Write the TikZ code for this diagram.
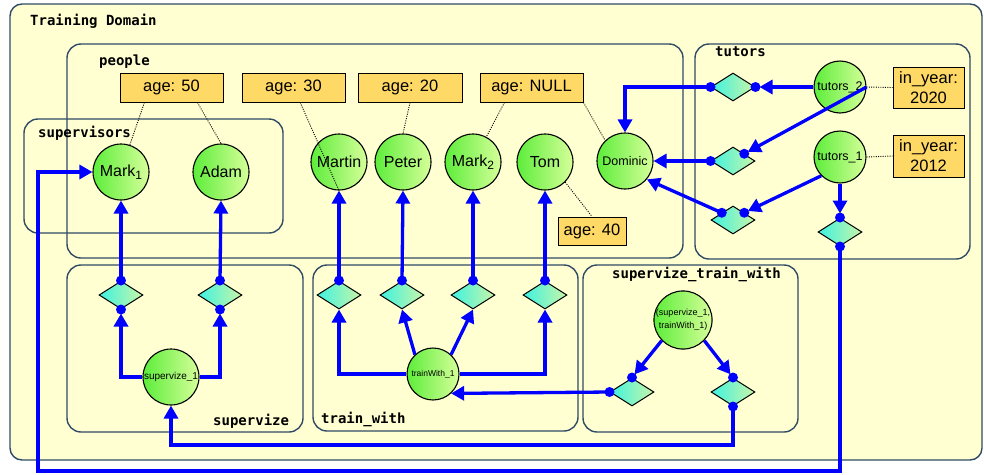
\documentclass[tikz,border=0pt]{standalone}
\usepackage{fontspec}
\setmainfont{Liberation Sans}
\newfontfamily\labfont{DejaVu Sans Mono}
\usetikzlibrary{arrows.meta,shapes.geometric,calc}
\definecolor{bgy}{HTML}{FFFFD2}
\definecolor{framec}{HTML}{2F4B66}
\definecolor{ageb}{HTML}{FFD966}
\definecolor{cgl}{HTML}{5DED3A}
\definecolor{cgr}{HTML}{D6FF9A}
\definecolor{dl}{HTML}{3EF2E0}
\definecolor{dr}{HTML}{C8F5A8}
\begin{document}
\begin{tikzpicture}[x=1pt,y=-1pt,
  grp/.style={draw=framec, line width=1.4pt, rounded corners=14pt},
  lab/.style={font={\labfont\bfseries\fontsize{14}{16}\selectfont}, anchor=west, inner sep=0pt},
  circ/.style={circle, draw=black, line width=1.1pt, minimum size=#1, inner sep=0pt,
    left color=cgl, right color=cgr, text=black, font=\fontsize{16}{18}\selectfont},
  circ/.default=56pt,
  dia/.style={diamond, draw=black, line width=1pt, minimum width=44pt, minimum height=28pt,
    inner sep=0pt, aspect=1.57, left color=dl, right color=dr},
  agebox/.style={rectangle, draw=black, line width=1pt, fill=ageb, minimum width=#1,
    minimum height=29pt, inner sep=0pt, font=\fontsize{16.5}{19}\selectfont},
  arr/.style={draw=blue, line width=3.3pt, -{Triangle[length=13pt,width=14pt]}},
  bl/.style={draw=blue, line width=3.3pt},
  dotl/.style={draw=black, line width=0.9pt, dash pattern=on 1pt off 1.3pt},
  bdot/.style={fill=blue}
]
\useasboundingbox (0,0) rectangle (984,474);
% frames
\draw[grp, fill=bgy, rounded corners=12pt] (10,4) rectangle (982,460);
\draw[grp] (67,44) rectangle (683,258);
\draw[grp] (24,119) rectangle (283,233);
\draw[grp] (695,44) rectangle (970,259);
\draw[grp] (67,265) rectangle (303,432);
\draw[grp] (313,265) rectangle (578,431);
\draw[grp] (583,265) rectangle (798,432);
% frame labels
\node[lab] (lTD) at (30,21) {Training Domain};
\node[lab] (lPe) at (99,62) {people};
\node[lab] (lSu) at (38,133) {supervisors};
\node[lab] (lTu) at (715,52) {tutors};
\node[lab] (lSv) at (213,421) {supervize};
\node[lab] (lTw) at (321,419) {train\_with};
\node[lab] (lSt) at (612,274) {supervize\_train\_with};
% age boxes
\node[agebox=103pt] (a50) at (171.5,87.5) {age: 50};
\node[agebox=103pt] (a30) at (293.5,87.5) {age: 30};
\node[agebox=104pt] (a20) at (410,87.5) {age: 20};
\node[agebox=103pt] (aNU) at (531.5,87.5) {age: NULL};
\node[agebox=68pt, minimum height=28pt] (a40) at (592,231) {age: 40};
\node[agebox=71pt, minimum height=41pt, align=center, font=\fontsize{16.5}{20}\selectfont] (y20) at (928.5,87.5) {in\_year:\\2020};
\node[agebox=71pt, minimum height=42pt, align=center, font=\fontsize{16.5}{20}\selectfont] (y12) at (928.5,156) {in\_year:\\2012};
% circles
\node[circ] (m1) at (121,172) {Mark\raisebox{-0.35ex}{\fontsize{12}{12}\selectfont 1}};
\node[circ] (adam) at (221,172) {Adam};
\node[circ] (martin) at (339,162) {Martin};
\node[circ] (peter) at (403,162) {Peter};
\node[circ] (mark2) at (473,162) {Mark\raisebox{-0.35ex}{\fontsize{12}{12}\selectfont 2}};
\node[circ] (tom) at (545,162) {Tom};
\node[circ, font=\fontsize{12.5}{14}\selectfont] (dom) at (625,161) {Dominic};
\node[circ=52pt, font=\fontsize{12.5}{14}\selectfont] (t2) at (840,87) {tutors\_2};
\node[circ=52pt, font=\fontsize{12.5}{14}\selectfont] (t1) at (840,157) {tutors\_1};
\node[circ, font=\fontsize{10}{12}\selectfont] (s1) at (171,377) {supervize\_1};
\node[circ=52pt, font=\fontsize{8.5}{10}\selectfont] (tw) at (433,374) {trainWith\_1};
\node[circ=58pt, align=center, font=\fontsize{9}{13}\selectfont] (stw) at (683,320) {(supervize\_1,\\trainWith\_1)};
% diamonds
\node[dia] (sd1) at (121,295) {};
\node[dia] (sd2) at (220,295) {};
\node[dia] (td1) at (339,295) {};
\node[dia] (td2) at (402,295) {};
\node[dia] (td3) at (473,295) {};
\node[dia] (td4) at (545,295) {};
\node[dia] (xd1) at (632,392) {};
\node[dia] (xd2) at (733,392) {};
\node[dia] (ud1) at (733,87) {};
\node[dia] (ud2) at (733,161) {};
\node[dia] (ud3) at (733,220) {};
\node[dia] (ud4) at (840,232) {};
\coordinate (ybot) at (38,471);
\coordinate (ymid) at (0,445);
% connectors: supervize
\draw[arr] (sd1.north) -- (m1.south);
\draw[arr] (sd2.north) -- (adam.south);
\draw[arr, shorten >=4pt] (s1.west) -| (sd1.south);
\draw[arr, shorten >=4pt] (s1.east) -| (sd2.south);
% train_with
\draw[arr] (td1.north) -- (martin.south);
\draw[arr] (td2.north) -- (peter.south);
\draw[arr] (td3.north) -- (mark2.south);
\draw[arr] (td4.north) -- (tom.south);
\draw[arr] (tw.west) -| (td1.south);
\draw[arr] (tw.east) -| (td4.south);
\draw[arr] (tw.133) -- (td2.south);
\draw[arr] (tw.47) -- (td3.south);
% supervize_train_with
\draw[arr, shorten >=4pt] (stw.224) -- (xd1.north);
\draw[arr, shorten >=4pt] (stw.316) -- (xd2.north);
\draw[arr] (xd1.west) -- (tw.-47);
\draw[arr] (xd2.south) -- (xd2.south |- ymid) -| (s1.south);
% tutors
\draw[arr, shorten >=4pt] (t2.west) -- (ud1.east);
\draw[arr] (ud1.west) -| (dom.north);
\draw[arr, shorten >=4pt] (t2.east) -- (ud2.north east);
\draw[arr] (ud2.west) -- (dom.east);
\draw[arr, shorten >=4pt] (t1.225) -- (ud3.north east);
\draw[arr] (ud3.north west) -- (dom.-40);
\draw[arr, shorten >=4pt] (t1.south) -- (ud4.north);
\draw[arr] (ud4.south) -- (ud4.south |- ybot) -- (ybot) |- (m1.west);
% dots
\foreach \p in {sd1.north,sd1.south,sd2.north,sd2.south,td1.north,td2.north,td3.north,td4.north,
  xd1.north,xd1.west,xd2.north,xd2.south,ud1.west,ud1.east,ud2.west,ud2.north east,
  ud3.north west,ud3.north east,ud4.north,ud4.south}
  \fill[bdot] (\p) circle (5pt);
% dotted attribute links
\draw[dotl] (a50.209) -- (m1.72);
\draw[dotl] (a50.-30) -- (adam.north);
\draw[dotl] (a30.-66) -- (martin.south);
\draw[dotl] (a20.south) -- (peter.north);
\draw[dotl] (aNU.209) -- (mark2.62);
\draw[dotl] (aNU.south east) -- (dom.134);
\draw[dotl] (tom.-45) -- (a40.north);
\draw[dotl] (t2.east) -- (y20.west);
\draw[dotl] (t1.east) -- (y12.west);
\end{tikzpicture}
\end{document}
